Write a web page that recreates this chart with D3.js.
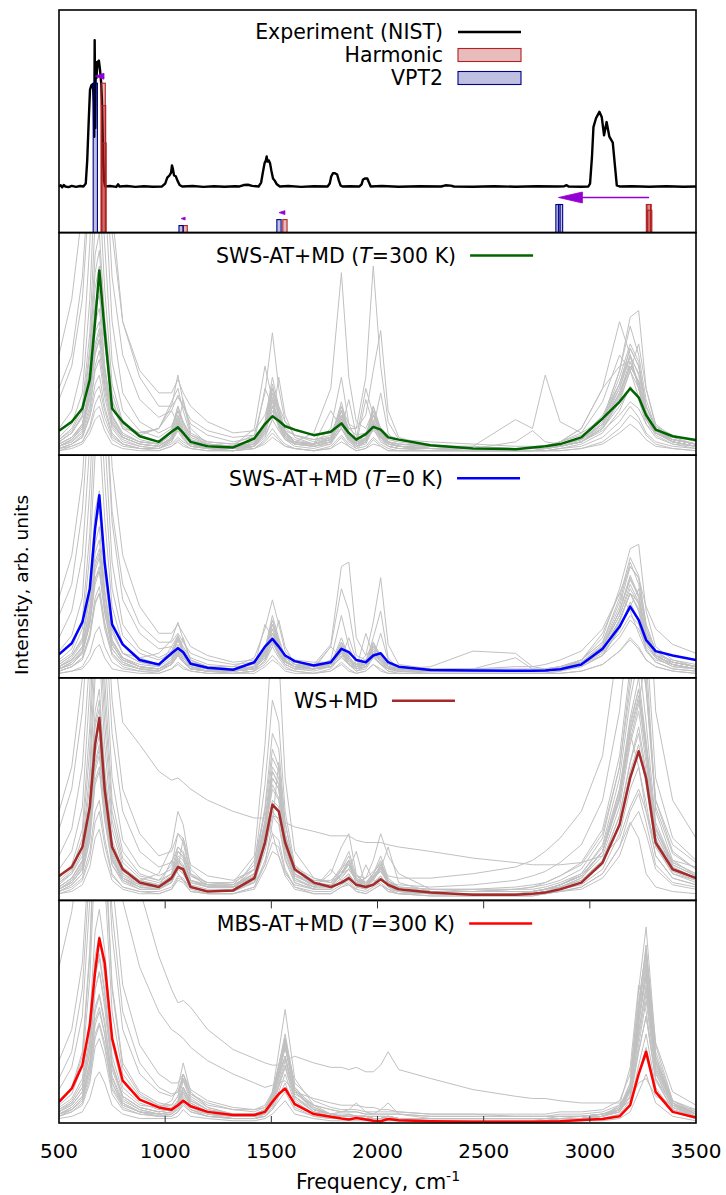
<!DOCTYPE html>
<html>
<head>
<meta charset="utf-8">
<script src="https://cdn.jsdelivr.net/npm/d3@7"></script>
<style>
  body { margin: 0; background: #fff; }
  svg { display: block; }
  text { font-family: "DejaVu Sans", sans-serif; fill: #000; }
</style>
</head>
<body>
<svg id="chart" width="726" height="1195"></svg>
<script>
// ---------- data ----------
// Axis ticks
const tickValues = [500, 1000, 1500, 2000, 2500, 3000, 3500];
const tickLabels = ["500", "1000", "1500", "2000", "2500", "3000", "3500"];
const innerTicks = [1000, 1500, 2000, 2500, 3000];

// Experimental spectrum (NIST), [frequency, normalised intensity]
const expPoints = [
  [500,0],[508,0.008],[515,-0.006],[522,0.01],[530,0],[545,-0.004],[560,0.004],[580,-0.003],[600,0.003],[615,0],
  [626,0.02],[633,0.18],[640,0.45],[646,0.66],[652,0.69],[660,0.70],[664,0.56],[666,0.34],[668,1.0],[671,0.40],
  [673,0.85],[676,0.74],[682,0.85],[688,0.86],[693,0.80],[698,0.72],[702,0.60],[705,0.42],[708,0.18],[712,0.04],
  [718,0],[740,0.003],[770,-0.003],[778,0.015],[785,0],[820,0.003],[860,-0.003],[900,0.002],[940,-0.002],[985,0],
  [1000,0.02],[1010,0.06],[1020,0.075],[1028,0.095],[1032,0.144],[1036,0.123],[1042,0.075],[1050,0.07],[1058,0.04],[1068,0.01],
  [1080,0],[1130,0.003],[1180,-0.003],[1230,0.002],[1280,-0.002],[1330,0.002],[1350,0],[1370,0.01],[1390,0.012],[1410,0.004],
  [1440,0],[1452,0.027],[1460,0.095],[1468,0.158],[1474,0.178],[1478,0.205],[1482,0.17],[1488,0.178],[1494,0.158],[1500,0.11],
  [1508,0.055],[1516,0.04],[1526,0.015],[1540,0],[1580,0.003],[1640,-0.003],[1700,0.002],[1765,0],[1775,0.02],[1782,0.068],
  [1790,0.09],[1800,0.09],[1810,0.082],[1818,0.04],[1826,0.007],[1835,0],[1870,0.002],[1915,0],[1925,0.014],[1932,0.048],
  [1942,0.055],[1952,0.055],[1960,0.027],[1968,0],[2020,0.003],[2100,-0.002],[2200,0.002],[2300,0],[2320,0.008],[2345,0.006],
  [2360,0],[2450,-0.002],[2550,0.002],[2650,-0.002],[2750,0.002],[2850,0],[2880,0.002],[2891,0.009],[2900,0],[2960,-0.002],
  [2993,0],[3001,0.02],[3010,0.2],[3017,0.405],[3029,0.466],[3045,0.51],[3056,0.475],[3067,0.35],[3079,0.44],[3092,0.34],
  [3108,0.30],[3119,0.13],[3127,0.007],[3140,0],[3200,0.002],[3280,-0.002],[3360,0.002],[3440,-0.002],[3500,0]
];

// Computed band positions (cm-1) and relative intensities
const harmFreq = [708, 710, 712, 1094, 1564, 3276, 3279, 3282];
const harmInt  = [1.0, 0.85, 0.6, 0.047, 0.087, 0.188, 0.188, 0.15];
const vpt2Freq = [671, 1075, 1536, 2850, 2862];
const vpt2Int  = [1.0, 0.047, 0.087, 0.188, 0.188];

// Anharmonic shifts: harmonic -> VPT2
const shiftFrom  = [712, 1094, 1564, 3279];
const shiftTo    = [670, 1075, 1536, 2852];
const shiftLevel = [1.0, 0.047, 0.087, 0.188];

// Frequency grid shared by the simulated spectra
const freqGrid = [500,560,610,645,670,690,715,750,800,880,970,
  1030,1060,1085,1120,1200,1320,
  1420,1470,1505,1535,1565,1610,1700,
  1780,1830,1865,1900,
  1945,1980,2015,2050,
  2100,2250,2450,2650,2730,2790,2860,
  2960,3060,3140,3190,3230,3265,3310,3390,3500];

// SWS-AT+MD (T=300 K): averaged spectrum and individual structures (% of panel height)
const meanSws300 = [11,15,21,34,60,83,56,21,15,8.5,6, 10.5,12.5,10,6,4,3.5, 7.5,14,17.5,15.5,13,11.5,9, 10.5,14.3,10,7, 9.5,12.7,11.5,8, 7,4.5,3,2.7,3.5,4,5, 8,16.5,24,30,26,18,11.5,8.5,6.8];
const spectraSws300 = [
  [3,4,6,13,23,27,17,8,5,3,3, 5,8,6,4,3,2, 3,7,12,8,5,3,2, 4,9,5,3, 4,8,5,3, 2,2,2,2,2,2,3, 4,8,15,22,17,10,6,4,3],
  [4,6,10,22,40,47,29,13,7,4,3, 7,14,9,5,3,2, 4,10,20,13,7,4,3, 5,15,7,3, 6,14,8,4, 3,2,2,2,2,2,3, 5,10,20,31,25,14,8,5,3],
  [30,45,80,130,160,170,140,80,45,25,17, 20,27,22,14,9,6, 8,14,22,17,12,9,7, 9,16,10,7, 9,15,10,7, 6,4,3,3,3,3,4, 6,12,22,30,26,16,10,7,5],
  [8,14,28,70,125,140,95,42,20,11,8, 12,22,15,8,5,4, 5,12,28,18,9,5,4, 6,18,8,4, 7,18,10,5, 4,3,2,2,2,3,4, 6,14,28,42,33,18,10,6,4],
  [5,8,14,32,60,66,40,18,10,6,5, 9,17,11,6,4,3, 4,14,30,20,10,6,4, 6,20,9,5, 7,22,11,5, 4,3,3,3,3,3,5, 7,14,30,45,36,20,11,7,5],
  [45,70,110,160,200,220,180,110,60,35,22, 22,26,22,16,11,8, 9,13,18,14,11,9,7, 8,12,8,6, 7,11,8,6, 5,4,4,3,3,3,4, 6,11,18,24,21,14,10,7,5],
  [3,5,8,18,32,36,22,10,5,3,3, 6,11,7,4,3,3, 4,9,16,11,7,6,10, 30,82,35,15, 12,20,12,6, 4,3,3,3,3,3,4, 6,12,25,38,30,16,9,5,4],
  [4,7,12,28,50,57,35,15,8,5,4, 8,15,10,5,3,3, 4,10,22,14,8,5,5, 8,18,12,12, 35,85,40,15, 7,4,3,3,3,3,4, 6,12,26,40,33,18,10,6,4],
  [6,10,18,45,82,92,58,25,12,7,5, 10,20,13,7,4,3, 5,15,35,22,11,6,5, 8,22,14,12, 18,38,56,20, 8,4,3,3,3,3,5, 8,16,35,50,42,22,12,7,5],
  [4,6,11,25,45,52,32,14,8,5,4, 8,16,10,5,4,3, 5,12,24,16,9,6,5, 7,16,8,5, 6,14,8,5, 4,4,4,16,12,36,15, 10,16,38,58,45,25,12,7,5],
  [7,12,22,55,105,120,75,32,15,9,6, 11,22,14,7,5,4, 5,14,30,20,10,6,5, 7,24,10,5, 8,22,12,6, 4,3,3,6,11,6,5, 8,16,32,48,40,22,12,7,5],
  [5,8,14,30,55,60,38,17,9,6,5, 10,18,12,6,4,3, 5,14,28,18,10,6,5, 7,18,9,5, 7,16,9,5, 4,3,3,3,3,4,6, 12,30,60,45,30,18,10,6,4],
  [3,5,9,20,38,43,26,12,6,4,3, 7,13,9,5,3,3, 4,11,22,14,8,5,4, 6,14,7,4, 6,13,7,4, 3,3,3,3,3,3,5, 8,16,38,62,65,30,14,8,5],
  [6,10,18,40,75,85,52,22,12,10,12, 22,36,24,10,6,5, 9,28,55,30,15,9,6, 8,22,10,6, 8,18,10,6, 5,4,3,3,3,4,5, 7,14,28,40,33,19,11,7,5],
  [2,3,5,10,16,18,11,5,3,2,2, 4,7,5,3,2,2, 3,6,10,7,4,3,2, 3,8,4,2, 3,7,4,2, 2,2,2,2,2,2,2, 3,6,12,18,15,9,5,3,2],
  [25,40,70,120,170,190,160,100,60,38,28, 28,34,28,22,15,10, 11,18,30,22,15,11,9, 10,20,12,9, 10,18,12,9, 7,6,5,4,4,4,6, 9,16,30,44,37,22,13,9,6],
  [4,7,13,32,68,75,40,16,8,5,4, 7,13,8,4,3,2, 4,12,25,15,8,5,4, 6,17,8,4, 6,15,8,4, 3,3,2,2,2,3,4, 6,13,27,40,33,18,10,6,4],
  [3,5,8,17,28,31,20,9,5,3,3, 6,12,8,4,3,4, 12,40,25,12,7,5,4, 5,12,6,4, 5,12,6,4, 3,3,3,3,3,3,5, 8,18,32,45,30,17,10,6,4],
  [6,10,17,38,66,72,50,24,13,9,12, 20,14,9,6,4,3, 6,30,22,14,9,6,5, 20,12,7,5, 25,14,8,5, 4,3,3,3,3,4,6, 10,24,45,38,26,16,10,7,5],
  [5,8,13,28,48,55,38,18,9,6,5, 7,12,25,12,5,4, 4,8,16,35,18,8,5, 6,12,25,9, 6,12,28,10, 4,3,3,3,3,3,4, 6,12,24,38,50,30,13,7,5],
  [12,20,40,95,150,170,120,60,28,15,10, 13,20,15,9,6,5, 6,13,26,18,10,7,5, 7,16,9,6, 7,15,9,6, 5,4,3,3,3,3,4, 7,14,28,40,33,19,11,7,5],
  [2,4,6,12,20,22,14,7,4,3,2, 4,6,4,3,2,2, 3,5,8,6,4,3,2, 3,6,4,2, 3,5,4,2, 2,2,2,2,2,2,2, 3,5,10,14,11,7,4,3,2],
  [4,7,12,26,46,52,32,14,8,5,4, 8,14,10,5,3,3, 4,11,22,14,8,5,5, 12,35,14,7, 30,18,9,5, 4,3,3,3,3,4,6, 12,30,40,42,32,18,10,6,4],
  [7,11,20,48,90,100,62,28,14,10,12, 24,30,20,9,5,4, 5,13,32,20,10,6,5, 7,20,9,5, 7,20,10,5, 4,3,3,3,3,3,5, 7,15,32,48,40,22,12,7,5]
];

// SWS-AT+MD (T=0 K)
const meanSws0 = [10.5,15.5,25,40,67,82,52,24,15,8,6, 11,13.3,11.5,6.3,4.5,3.6, 7,14,17.5,14,10,7.5,5.5, 7,13,11.5,8, 7,10,11,7, 5,3.5,3.3,3.2,3.2,3.3,3.8, 6,13,23,32,26,17,12,10,8];
const spectraSws0 = [
  [3,5,8,18,33,38,22,10,5,3,3, 6,10,7,4,3,2, 3,8,14,9,5,3,2, 4,10,6,3, 4,9,6,3, 2,2,2,2,2,2,3, 5,10,22,32,25,12,7,4,3],
  [5,8,14,32,60,68,40,17,9,5,4, 8,15,10,5,3,3, 4,11,22,14,8,5,4, 6,16,10,5, 6,14,10,5, 3,3,3,3,3,3,4, 7,14,30,45,36,18,10,6,4],
  [28,42,75,125,160,170,135,75,42,24,16, 16,20,16,11,8,6, 7,12,18,14,10,7,6, 7,12,8,6, 7,11,8,6, 5,4,4,3,3,3,4, 6,10,18,26,22,14,9,7,5],
  [8,13,26,65,120,135,90,40,19,11,8, 11,18,12,7,5,4, 5,12,26,16,9,6,4, 6,18,9,5, 6,16,9,5, 4,3,3,3,3,3,4, 6,13,28,42,34,18,10,6,4],
  [4,7,12,27,50,56,34,15,8,5,4, 7,13,9,5,3,3, 4,10,18,12,7,5,6, 15,50,52,18, 10,14,10,5, 4,3,3,3,3,3,4, 6,12,26,38,30,16,9,5,4],
  [4,6,11,24,44,50,30,13,7,4,4, 7,12,8,4,3,3, 4,10,20,13,7,5,4, 6,14,8,6, 10,25,45,15, 6,4,3,3,3,3,4, 6,12,25,38,30,16,9,5,4],
  [6,10,18,40,75,84,50,22,11,7,5, 9,17,12,6,4,3, 5,13,28,18,9,6,5, 14,40,30,10, 8,16,10,5, 4,3,3,3,3,3,5, 8,16,34,52,42,22,12,7,5],
  [3,5,9,20,36,41,25,11,6,4,3, 6,11,7,4,3,3, 4,9,17,11,6,4,4, 5,12,7,4, 5,12,7,4, 4,5,12,11,5,4,5, 7,14,30,46,37,19,10,6,4],
  [5,8,14,30,56,62,38,16,9,5,4, 8,14,9,5,3,3, 4,11,22,14,8,5,4, 6,14,8,4, 6,13,8,4, 3,3,3,3,3,4,5, 8,18,40,58,60,30,14,8,5],
  [36,55,90,140,175,185,155,95,55,32,20, 20,24,20,14,10,7, 8,12,17,13,10,8,7, 7,11,8,6, 7,11,8,6, 5,4,4,4,4,4,5, 7,12,20,28,24,15,10,8,6],
  [5,9,16,36,68,76,46,20,11,9,11, 17,25,17,8,5,5, 9,22,35,24,12,7,5, 6,14,8,5, 6,13,8,5, 4,3,3,3,3,3,5, 7,14,28,40,33,18,10,6,4],
  [2,3,4,8,13,15,9,4,3,2,2, 4,6,4,3,2,2, 2,5,8,6,3,2,2, 3,6,3,2, 3,6,3,2, 2,2,2,2,2,2,2, 3,6,12,18,14,8,5,3,2],
  [7,11,22,55,100,112,72,32,15,9,6, 10,17,11,6,4,3, 5,12,24,15,8,5,4, 6,16,9,5, 6,15,9,5, 3,3,3,3,3,3,4, 7,15,32,50,45,24,12,7,5],
  [4,7,12,26,48,54,33,15,8,5,4, 7,12,8,4,3,3, 4,10,20,13,7,5,4, 5,12,7,4, 5,11,7,4, 4,4,4,5,5,6,8, 12,22,38,50,45,32,22,15,11],
  [18,30,55,105,150,165,130,70,35,20,13, 14,19,14,9,6,5, 6,11,20,14,9,6,5, 6,13,8,5, 6,12,8,5, 4,3,3,3,3,3,4, 6,12,26,38,31,17,10,6,4],
  [4,6,11,25,45,48,29,13,7,4,3, 6,10,7,4,3,2, 3,8,16,10,6,4,3, 5,12,6,3, 5,10,6,3, 3,2,2,2,2,2,3, 5,10,22,34,26,13,7,4,3],
  [5,8,13,28,52,58,38,17,9,6,5, 14,10,7,5,4,3, 5,24,18,11,7,5,4, 14,9,6,4, 20,10,6,4, 3,3,3,3,3,3,4, 8,20,38,30,20,12,8,6,4],
  [4,7,11,24,42,48,32,15,8,5,4, 6,10,18,8,4,3, 4,7,14,26,14,6,4, 5,9,18,8, 5,9,20,8, 3,3,3,3,3,3,4, 6,11,22,32,40,22,10,6,4],
  [12,19,36,85,140,158,110,52,24,13,9, 12,19,13,8,5,4, 5,12,24,16,9,6,5, 6,15,9,6, 6,14,9,6, 4,3,3,3,3,3,4, 7,14,30,44,37,20,11,7,5],
  [2,3,5,11,20,23,14,7,4,3,2, 4,7,5,3,2,2, 3,6,10,7,4,3,2, 3,7,4,2, 3,6,4,2, 2,2,2,2,2,2,2, 3,6,12,17,13,8,5,3,2],
  [6,10,17,38,68,76,48,22,11,7,6, 10,18,12,6,4,3, 5,12,26,17,9,6,5, 8,28,14,6, 7,18,30,9, 4,3,4,9,4,3,5, 8,16,36,54,46,24,12,7,5],
  [3,5,9,19,34,38,24,11,6,4,3, 6,10,7,4,3,3, 4,9,16,11,6,4,4, 5,11,6,4, 5,10,6,4, 3,3,3,3,3,3,4, 6,12,26,38,34,20,10,6,4]
];

// WS+MD
const meanWs = [11,15,24,42,70,82,50,24,14,8,6, 10,15,14,6,4,4.5, 10,26,43,40,26,14,8, 6,8,10,7, 6,7,9.5,7, 5,3.5,2.5,2.5,3,3.5,5, 8,17,34,55,67,55,26,14,10];
const spectraWs = [
  [4,7,12,27,52,58,36,16,8,5,5, 9,16,14,6,4,4, 10,28,45,42,22,10,5, 5,9,12,7, 5,7,11,6, 4,3,3,3,3,4,5, 8,16,35,58,70,52,24,12,9],
  [10,16,32,78,140,155,100,45,22,12,9, 12,22,20,9,6,6, 14,42,75,68,35,14,7, 6,12,17,9, 6,9,15,8, 5,3,3,3,4,5,7, 12,25,55,90,110,80,35,17,12],
  [32,50,85,135,170,180,150,90,50,30,20, 22,30,28,16,11,9, 14,35,60,55,30,15,10, 8,12,14,9, 8,10,13,8, 6,5,5,6,7,8,11, 16,30,60,95,120,95,45,25,17],
  [3,4,7,15,28,32,20,9,5,3,3, 5,10,9,4,3,3, 6,16,26,24,13,6,3, 3,6,8,4, 3,5,7,4, 3,2,2,2,2,3,4, 6,12,24,40,48,35,16,8,6],
  [6,10,18,42,80,90,56,25,13,9,12, 24,40,34,14,7,6, 12,34,58,52,28,12,6, 6,14,20,10, 7,12,18,9, 5,4,4,4,4,5,7, 11,22,46,75,90,66,30,15,10],
  [7,12,22,52,100,112,70,32,15,9,7, 11,20,18,9,7,8, 20,70,120,110,55,22,10, 8,15,22,11, 8,12,20,10, 6,4,4,4,4,5,7, 11,22,48,80,95,70,32,16,11],
  [40,60,100,150,180,190,170,120,80,70,58, 54,55,53,50,45,40, 37,37,38,37,35,33,31, 29,29,29,27, 26,26,26,25, 24,22,19,17,16,16,16, 17,20,28,42,50,40,25,18,15],
  [5,8,14,32,62,70,43,19,10,6,5, 8,15,13,6,4,4, 9,26,44,40,21,9,6, 12,24,30,12, 7,10,14,7, 4,3,3,3,3,4,6, 9,18,38,62,75,55,25,12,8],
  [4,7,12,28,54,60,37,16,9,5,5, 8,14,12,6,4,4, 8,22,38,34,18,8,5, 5,8,11,8, 10,18,30,20, 12,5,4,4,4,5,6, 9,18,38,62,78,58,26,13,9],
  [6,10,17,38,72,80,50,22,12,7,6, 10,18,15,8,6,6, 11,30,50,45,24,11,7, 7,11,14,9, 7,10,13,8, 7,6,7,9,11,13,17, 25,45,85,130,160,120,55,28,18],
  [5,9,16,36,70,78,48,21,11,7,6, 9,17,15,8,6,7, 16,52,90,80,40,16,8, 6,12,18,9, 6,10,16,8, 5,4,4,4,4,5,6, 10,20,42,70,85,62,28,14,10],
  [4,6,10,22,40,45,28,12,6,4,4, 6,11,10,5,3,3, 6,18,30,27,14,6,4, 4,7,9,5, 4,6,8,5, 3,3,3,3,3,3,5, 7,14,30,50,60,44,20,10,7],
  [5,8,14,32,60,68,42,18,10,6,5, 8,14,12,6,4,4, 8,24,40,36,19,8,5, 5,9,12,6, 5,8,11,6, 4,3,3,3,3,3,4, 6,12,24,35,28,12,6,4,3],
  [9,14,28,68,125,140,90,40,19,11,9, 16,30,26,11,7,6, 11,32,55,50,26,11,7, 6,12,16,8, 6,11,15,8, 5,4,4,4,4,5,7, 11,22,46,78,95,70,32,16,11],
  [8,12,20,45,85,95,60,27,14,9,7, 11,19,16,9,7,7, 12,34,58,52,28,13,9, 9,13,16,11, 10,13,16,11, 10,10,12,15,18,22,28, 40,65,120,170,190,160,85,45,28],
  [20,32,60,110,155,168,130,75,40,22,15, 17,24,22,12,8,7, 12,32,55,50,26,12,8, 7,12,16,9, 7,11,15,8, 5,4,4,5,5,6,8, 12,24,50,82,100,72,33,17,12],
  [5,8,14,30,58,65,40,18,9,6,6, 18,12,9,6,4,4, 18,40,30,20,12,7,5, 14,9,7,5, 16,9,7,5, 4,3,3,3,3,4,6, 10,22,50,75,60,40,20,10,7],
  [6,10,18,42,78,86,54,24,12,8,7, 9,14,28,12,6,6, 8,16,35,62,35,14,7, 6,10,14,22, 6,9,14,24, 8,4,4,4,4,5,7, 11,22,45,72,88,110,40,18,11],
  [14,22,42,95,150,165,115,55,27,15,11, 14,24,21,11,8,8, 14,40,68,60,30,14,9, 8,14,18,10, 8,12,17,9, 6,5,5,5,6,7,9, 14,28,60,100,125,95,42,21,14],
  [3,5,9,19,35,40,25,11,6,4,3, 5,9,8,4,3,3, 5,14,22,20,11,5,3, 3,6,7,4, 3,5,7,4, 3,2,2,2,2,3,4, 5,10,20,34,40,30,14,7,5],
  [5,9,15,34,66,74,46,20,10,7,6, 10,18,15,7,5,5, 11,30,52,46,24,10,6, 6,12,18,9, 6,10,16,8, 5,4,4,5,6,8,11, 17,32,65,105,130,100,45,22,14],
  [8,13,24,58,110,125,80,36,17,10,8, 12,22,19,9,6,6, 12,36,64,58,30,12,7, 6,12,16,8, 6,11,15,8, 5,4,4,4,4,5,7, 11,22,46,76,92,66,30,15,10]
];

// MBS-AT+MD (T=300 K)
const meanMbs = [9.5,15.5,26,44,68,83,72,38,19,10.5,7, 6,8,10,7.5,5,3.6, 3.6,5,9.5,13,15.5,8.5,4, 2.8,2,1.6,2.2, 1.6,1,0.8,1.8, 1.2,0.8,0.6,0.6,0.6,0.7,0.8, 1.3,1.8,3,8,22,32,14,5,2.5];
const spectraMbs = [
  [3,5,9,20,38,44,34,15,7,4,3, 3,5,9,5,3,2, 2,3,6,10,14,6,3, 2,2,2,2, 2,1,1,2, 1,1,1,1,1,1,1, 1,2,3,8,22,34,14,5,2],
  [9,15,30,75,135,150,125,60,25,13,8, 7,10,16,10,6,4, 4,6,12,22,30,12,6, 4,3,4,3, 3,2,2,3, 2,2,2,2,2,2,2, 3,4,6,15,45,70,28,9,4],
  [70,95,130,170,190,195,180,140,100,70,50, 42,40,38,34,28,22, 18,16,17,18,19,14,11, 9,8,8,8, 7,7,6,6, 5,4,4,3,3,3,3, 3,4,6,10,22,30,14,7,4],
  [250,280,300,320,330,330,320,280,200,105,75, 60,54,55,52,42,33, 29,27,26,26,28,30,27, 25,25,24,25, 23,23,26,32, 24,20,15,12,11,11,10, 9,9,9,11,18,20,12,8,6],
  [5,8,14,32,60,68,52,24,11,6,4, 5,8,14,8,5,3, 3,5,14,32,51,20,8, 4,3,3,3, 3,2,2,3, 2,2,2,2,2,2,2, 2,3,5,12,35,55,22,7,3],
  [4,7,12,27,50,57,44,20,9,5,4, 4,7,12,7,4,3, 3,4,9,18,28,12,5, 3,3,3,3, 2,2,2,2, 2,1,1,1,1,1,2, 2,3,6,18,60,88,35,10,4],
  [6,10,18,40,75,84,66,30,14,8,7, 10,16,27,14,7,4, 4,6,12,24,36,15,6, 4,3,3,3, 3,2,2,3, 2,2,2,2,2,2,2, 2,3,6,14,45,68,27,8,4],
  [8,13,26,65,120,135,110,50,22,12,8, 8,12,20,11,6,4, 4,6,12,24,38,15,6, 4,3,4,3, 3,3,3,3, 2,2,2,2,2,2,2, 2,4,7,16,50,75,30,9,4],
  [2,3,5,11,20,23,18,8,4,2,2, 2,3,6,3,2,1, 1,2,4,7,10,4,2, 1,1,1,1, 1,1,1,1, 1,1,1,1,1,1,1, 1,1,2,5,14,22,9,3,1],
  [28,42,72,125,165,175,160,110,62,35,22, 18,18,22,15,10,7, 6,7,12,20,30,13,8, 6,5,5,5, 4,4,4,4, 4,3,3,3,3,3,3, 3,4,6,12,32,48,20,8,5],
  [4,7,12,28,52,58,46,21,10,6,4, 5,8,13,8,4,3, 3,4,8,17,26,11,5, 4,5,6,9, 5,4,6,9, 4,2,2,2,2,2,2, 2,3,5,12,40,62,25,8,3],
  [5,9,16,36,68,76,60,27,12,7,5, 6,9,16,9,5,3, 3,5,12,26,40,16,7, 4,3,3,3, 3,2,2,3, 2,2,2,2,2,2,2, 2,3,6,16,50,72,28,9,4],
  [10,16,32,78,140,160,130,62,27,14,9, 8,12,22,12,7,4, 4,6,13,26,38,16,7, 4,4,4,3, 3,3,3,3, 2,2,2,2,2,2,3, 3,4,7,18,52,80,32,10,5],
  [3,6,10,22,40,45,36,16,8,5,3, 4,6,10,6,3,2, 2,3,7,14,22,9,4, 3,2,2,2, 2,2,2,2, 1,1,1,1,1,1,2, 2,2,4,10,32,48,19,6,3],
  [15,25,48,100,150,165,145,85,42,22,14, 12,14,22,13,9,6, 6,8,14,26,38,18,10, 7,6,6,6, 5,5,5,5, 5,4,4,4,4,4,5, 5,6,10,22,55,78,36,14,8],
  [4,6,11,25,46,52,40,18,8,5,3, 4,7,11,6,4,2, 2,4,8,16,25,10,4, 3,2,2,2, 2,2,2,2, 1,1,1,1,1,2,2, 2,3,8,25,62,50,20,6,3],
  [5,8,14,32,60,68,55,26,12,7,5, 6,9,15,9,5,3, 3,5,10,22,34,14,6, 4,3,3,3, 3,2,2,3, 2,2,2,2,2,2,2, 2,3,6,14,48,66,26,8,4],
  [7,11,20,46,86,96,78,36,16,9,6, 6,10,19,10,6,3, 3,5,11,24,36,15,6, 4,3,3,3, 3,2,2,3, 2,2,2,2,2,2,2, 2,3,6,16,52,78,30,9,4],
  [3,5,8,18,34,38,30,13,6,4,3, 3,5,8,5,3,2, 2,3,6,12,18,7,3, 2,2,2,2, 2,1,1,2, 1,1,1,1,1,1,1, 1,2,3,8,26,40,16,5,2],
  [20,32,60,115,160,172,150,95,50,27,16, 13,14,20,13,8,6, 5,7,13,24,34,15,8, 6,5,5,5, 4,4,4,4, 4,3,3,3,3,3,4, 4,5,8,16,45,65,28,10,6],
  [6,9,16,36,66,74,58,26,12,7,5, 6,9,16,9,5,3, 3,5,11,22,34,14,6, 4,3,3,3, 3,2,2,3, 2,2,2,2,2,2,2, 2,3,6,15,42,60,24,8,4],
  [4,6,11,24,44,50,40,18,9,5,4, 5,8,14,8,4,3, 3,4,9,20,30,12,5, 3,3,3,3, 2,2,2,2, 2,1,1,1,1,1,2, 2,3,5,14,38,58,23,7,3]
];

// Panel labels (text runs, italic flag)
const labelSws300 = [["SWS-AT+MD (", false], ["T", true], ["=300 K)", false]];
const labelSws0   = [["SWS-AT+MD (", false], ["T", true], ["=0 K)", false]];
const labelWs     = [["WS+MD", false]];
const labelMbs    = [["MBS-AT+MD (", false], ["T", true], ["=300 K)", false]];
const topLegend   = ["Experiment (NIST)", "Harmonic", "VPT2"];

// ---------- layout ----------
const svg = d3.select("#chart");
const plotLeft = 59, plotRight = 696, plotTop = 10, plotBottom = 1123, nPanels = 5;
const panelH = (plotBottom - plotTop) / nPanels;
const panelTop = i => plotTop + i * panelH;
const x = d3.scaleLinear().domain([500, 3500]).range([plotLeft, plotRight]);
const labelSize = 20.5;

const defs = svg.append("defs");
d3.range(nPanels).forEach(i => {
  defs.append("clipPath").attr("id", "clip" + i).append("rect")
    .attr("x", plotLeft).attr("y", panelTop(i))
    .attr("width", plotRight - plotLeft).attr("height", panelH);
});

// ---------- top panel: experiment + computed bands ----------
const yExp = d3.scaleLinear().domain([-0.315, 1.2055]).range([panelTop(1), panelTop(0)]);
const yStick = d3.scaleLinear().domain([0, 1.49]).range([panelTop(1), panelTop(0)]);
const g0 = svg.append("g").attr("clip-path", "url(#clip0)");

g0.append("path").datum(expPoints)
  .attr("d", d3.line().x(d => x(d[0])).y(d => yExp(d[1])))
  .attr("fill", "none").attr("stroke", "#000").attr("stroke-width", 2.4)
  .attr("stroke-linejoin", "round");

const stickW = 20;
function drawSticks(freqs, ints, fill, stroke) {
  g0.append("g").selectAll("rect").data(d3.zip(freqs, ints)).join("rect")
    .attr("x", d => x(d[0] - stickW / 2))
    .attr("width", d => x(d[0] + stickW / 2) - x(d[0] - stickW / 2))
    .attr("y", d => yStick(d[1]))
    .attr("height", d => yStick(0) - yStick(d[1]))
    .attr("fill", fill).attr("stroke", stroke).attr("stroke-width", 1.1);
}
drawSticks(harmFreq, harmInt, "rgba(178,34,34,0.3)", "#b22222");
drawSticks(vpt2Freq, vpt2Int, "rgba(0,0,139,0.25)", "#00008b");

// arrows from harmonic to VPT2 positions
const arrowColor = "#9400d3";
d3.zip(shiftFrom, shiftTo, shiftLevel).forEach(([f, t, lv]) => {
  const x1 = x(f), x2 = x(t), y = yStick(lv) - 7;
  const len = Math.abs(x1 - x2), dir = Math.sign(x2 - x1);
  const hl = Math.min(24, len), hw = Math.min(5.5, Math.max(1.4, len * 0.33));
  const xb = x2 - dir * hl;
  if (len > hl) {
    g0.append("line").attr("x1", x1).attr("x2", xb).attr("y1", y).attr("y2", y)
      .attr("stroke", arrowColor).attr("stroke-width", 1.6);
  }
  g0.append("path")
    .attr("d", `M${x2},${y}L${xb},${y - hw}L${xb},${y + hw}Z`)
    .attr("fill", arrowColor).attr("stroke", arrowColor).attr("stroke-width", 0.8);
});

// top legend
const legX = 443, legH0 = 458, legH1 = 521;
const legY = [32, 55, 78];
topLegend.forEach((t, i) => {
  svg.append("text").attr("x", legX).attr("y", legY[i]).attr("dy", "0.36em")
    .attr("text-anchor", "end").attr("font-size", labelSize).text(t);
});
svg.append("line").attr("x1", legH0).attr("x2", legH1).attr("y1", legY[0]).attr("y2", legY[0])
  .attr("stroke", "#000").attr("stroke-width", 2.4);
svg.append("rect").attr("x", legH0).attr("y", legY[1] - 6.5).attr("width", legH1 - legH0).attr("height", 13)
  .attr("fill", "rgba(178,34,34,0.3)").attr("stroke", "#b22222").attr("stroke-width", 1.1);
svg.append("rect").attr("x", legH0).attr("y", legY[2] - 6.5).attr("width", legH1 - legH0).attr("height", 13)
  .attr("fill", "rgba(0,0,139,0.25)").attr("stroke", "#00008b").attr("stroke-width", 1.1);

// ---------- simulated spectra panels ----------
const panels = [
  { label: labelSws300, color: "#006400", mean: meanSws300, spectra: spectraSws300 },
  { label: labelSws0,   color: "#0000ff", mean: meanSws0,   spectra: spectraSws0 },
  { label: labelWs,     color: "#a52a2a", mean: meanWs,     spectra: spectraWs },
  { label: labelMbs,    color: "#ff0000", mean: meanMbs,    spectra: spectraMbs }
];

panels.forEach((p, k) => {
  const i = k + 1;
  const y = d3.scaleLinear().domain([0, 100]).range([panelTop(i + 1), panelTop(i)]);
  const line = d3.line().x((d, j) => x(freqGrid[j])).y(d => y(d));
  const g = svg.append("g").attr("clip-path", `url(#clip${i})`);
  g.selectAll("path.single").data(p.spectra).join("path").attr("class", "single")
    .attr("d", line).attr("fill", "none").attr("stroke", "#c0c0c0").attr("stroke-width", 1);
  g.append("path").datum(p.mean).attr("d", line)
    .attr("fill", "none").attr("stroke", p.color).attr("stroke-width", 2.5)
    .attr("stroke-linejoin", "round");

  // legend: label followed by the line sample, centred in the panel
  const ly = panelTop(i) + 23;
  const txt = svg.append("text").attr("y", ly).attr("dy", "0.36em").attr("font-size", labelSize);
  p.label.forEach(([s, it]) => {
    txt.append("tspan").attr("font-style", it ? "italic" : "normal").text(s);
  });
  const tw = txt.node().getComputedTextLength();
  const gap = 14, hLen = 63, total = tw + gap + hLen;
  const x0 = 374.5 - total / 2;
  txt.attr("x", x0);
  svg.append("line").attr("x1", x0 + tw + gap).attr("x2", x0 + total)
    .attr("y1", ly).attr("y2", ly).attr("stroke", p.color).attr("stroke-width", 2.5);
});

// ---------- frames and axes ----------
d3.range(nPanels).forEach(i => {
  svg.append("rect").attr("x", plotLeft).attr("y", panelTop(i))
    .attr("width", plotRight - plotLeft).attr("height", panelH)
    .attr("fill", "none").attr("stroke", "#000").attr("stroke-width", 1.6);
});

// inward ticks on the bottom panel
const tb = svg.append("g");
innerTicks.forEach(v => {
  tb.append("line").attr("x1", x(v)).attr("x2", x(v))
    .attr("y1", plotBottom).attr("y2", plotBottom - 7).attr("stroke", "#333").attr("stroke-width", 1);
  tb.append("line").attr("x1", x(v)).attr("x2", x(v))
    .attr("y1", panelTop(4)).attr("y2", panelTop(4) + 8).attr("stroke", "#333").attr("stroke-width", 1);
});

tickValues.forEach((v, i) => {
  svg.append("text").attr("x", x(v)).attr("y", plotBottom + 35)
    .attr("text-anchor", "middle").attr("font-size", 20).text(tickLabels[i]);
});

const xl = svg.append("text").attr("x", 378).attr("y", 1189)
  .attr("text-anchor", "middle").attr("font-size", labelSize);
xl.append("tspan").text("Frequency, cm");
xl.append("tspan").attr("font-size", 14).attr("dy", -8).text("-1");

svg.append("text").attr("transform", "translate(28,585) rotate(-90)")
  .attr("text-anchor", "middle").attr("font-size", 18.5).text("Intensity, arb. units");
</script>
</body>
</html>
